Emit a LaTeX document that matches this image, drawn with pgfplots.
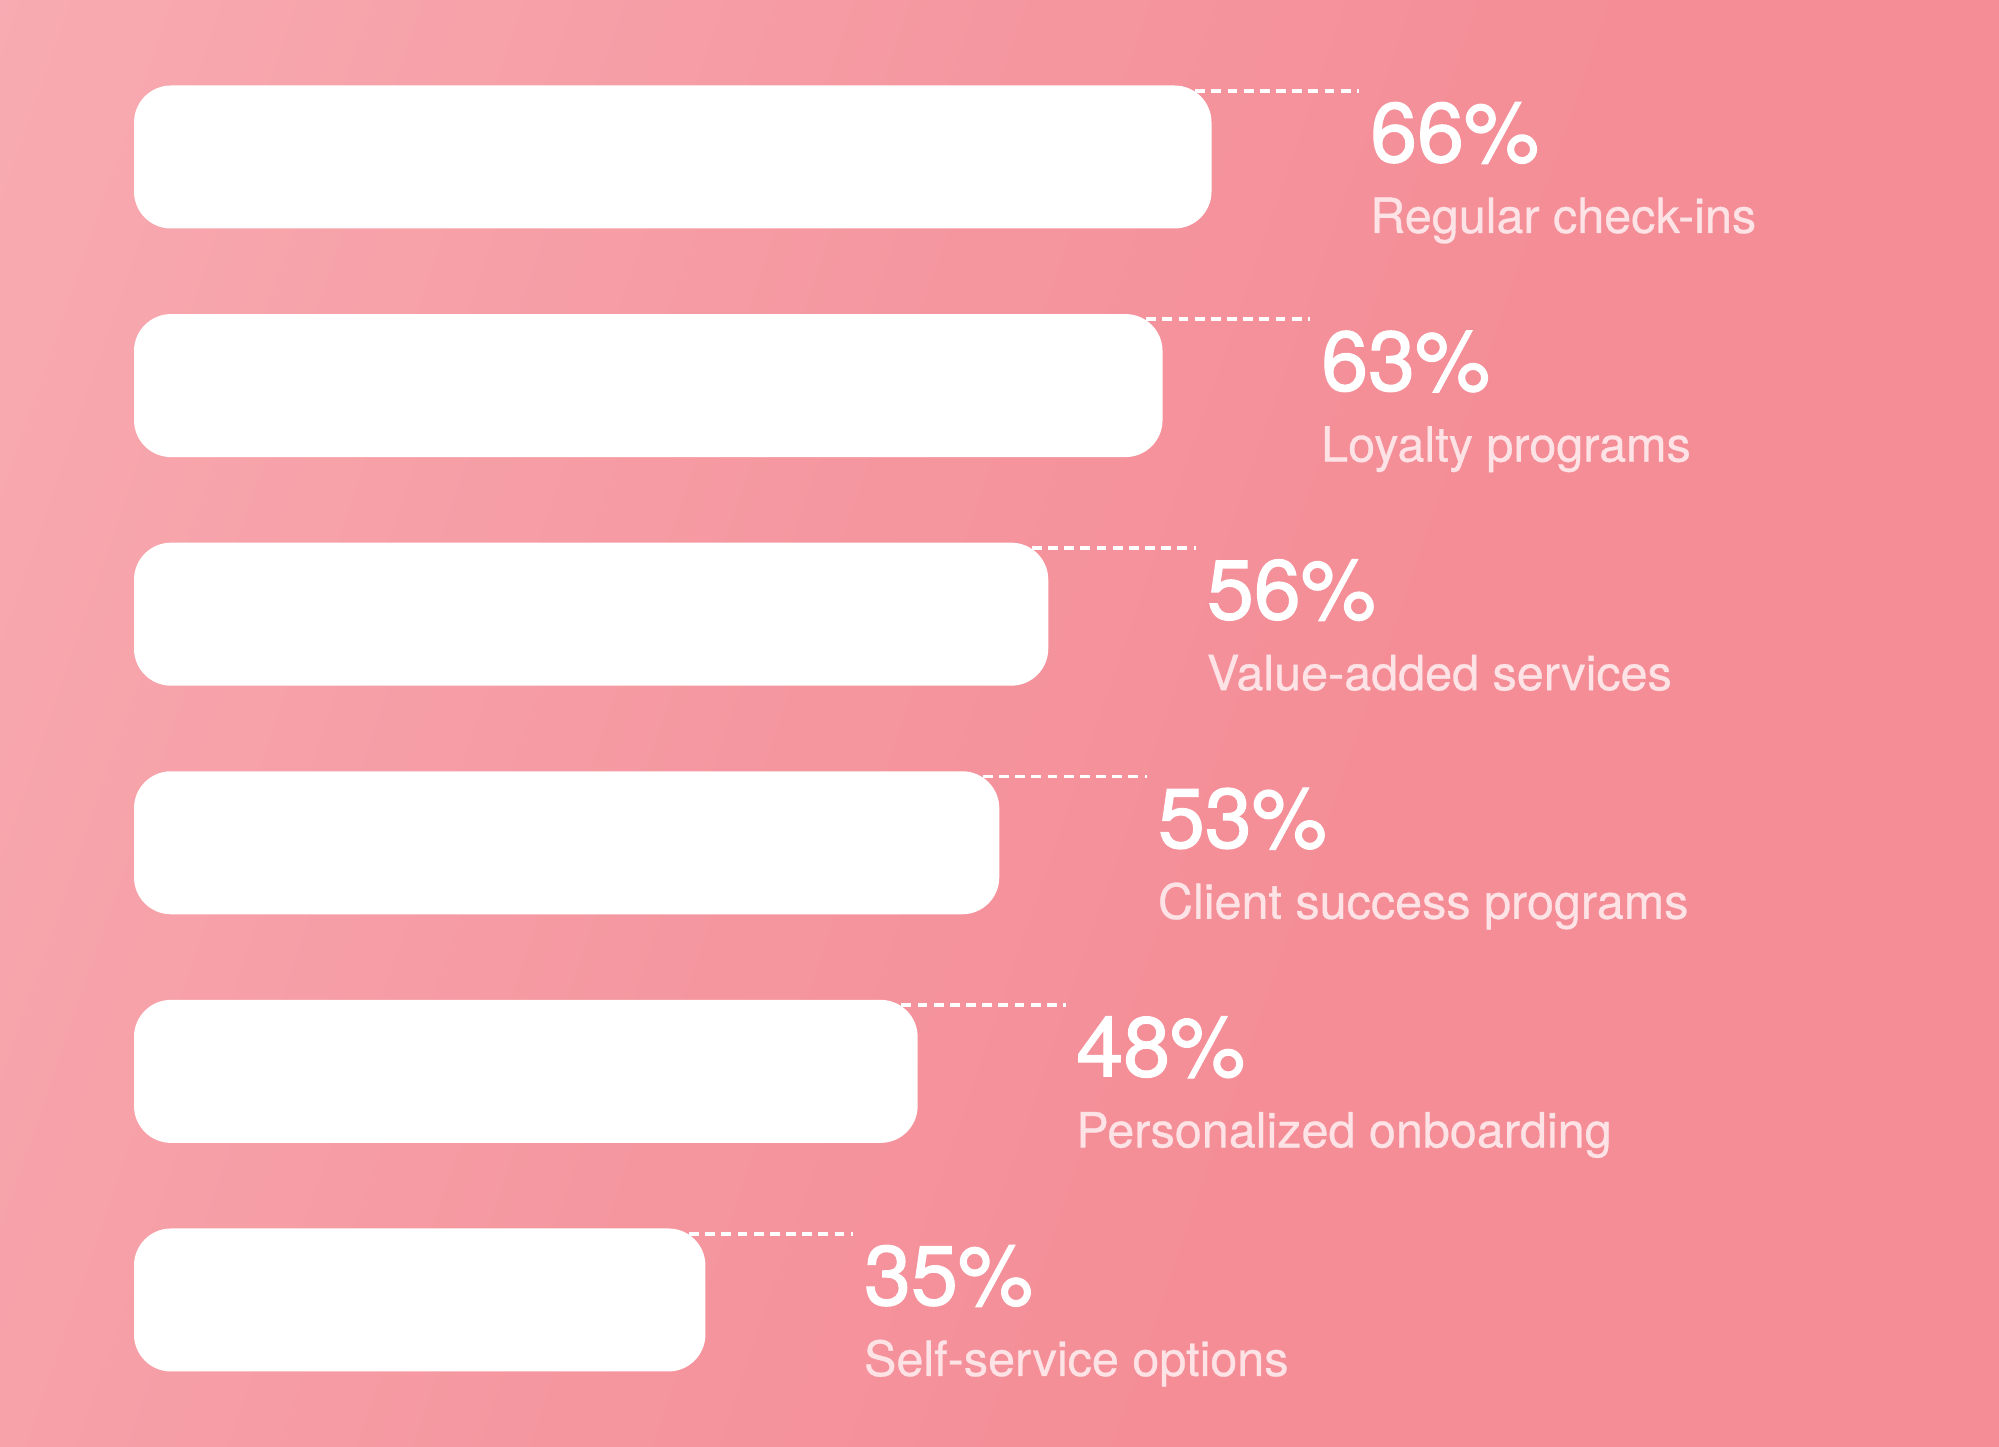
\documentclass[border=0pt]{standalone}
\usepackage{pgfplots}
\pgfplotsset{compat=1.18}
\usepackage{pgfplotstable}
\usepackage{fontspec}
\setmainfont{TeX Gyre Heros}
\newfontfamily\pctfont[FakeBold=1.4]{TeX Gyre Heros}
\newfontfamily\namefont[FakeBold=0.6]{TeX Gyre Heros}

\definecolor{bgA}{HTML}{FAB9BF}
\definecolor{bgB}{HTML}{F8A8AF}
\definecolor{bgC}{HTML}{F5969F}
\definecolor{bgD}{HTML}{F48D96}
\definecolor{subtext}{HTML}{FDE3E6}

\pgfdeclarehorizontalshading{bgshade}{100bp}{color(0bp)=(bgA); color(22bp)=(bgB); color(45bp)=(bgC); color(60bp)=(bgD); color(100bp)=(bgD)}

% share of companies per retention tactic
\pgfplotstableread[col sep=comma]{
pos,val,label
6,66,Regular check-ins
5,63,Loyalty programs
4,56,Value-added services
3,53,Client success programs
2,48,Personalized onboarding
1,35,Self-service options
}\reasons

\begin{document}
\begin{tikzpicture}
\shade[shading=bgshade, shading angle=-19] (0,0) rectangle (19.99,14.47);
\useasboundingbox (0,0) rectangle (19.99,14.47);
\begin{axis}[
    at={(1.34cm,0.327cm)}, anchor=south west,
    scale only axis,
    width=16cm, height=13.716cm,
    xmin=0, xmax=98,
    ymin=0.5, ymax=6.5,
    hide axis, clip=false,
]
    % bars
    \addplot[xbar, bar width=1.43cm, fill=white, draw=none,
        rounded corners=0.37cm]
        table[x=val, y=pos] {\reasons};
    % dashed leader lines
    \addplot[draw=none, mark=none,
        error bars/.cd, x dir=plus, x fixed=10.06, error mark=none,
        error bar style={draw=white, line width=1.1pt,
            dash pattern=on 2.8pt off 1.8pt}]
        table[x expr=\thisrow{val}-1, y expr=\thisrow{pos}+0.29] {\reasons};
    % percentages
    \addplot[draw=none, mark=none,
        point meta=explicit symbolic,
        nodes near coords={\pgfplotspointmeta\%},
        every node near coord/.append style={anchor=base west,
            xshift=1.58cm, yshift=-0.05cm, inner sep=0pt, text=white,
            font=\pctfont\fontsize{24}{28}\selectfont}]
        table[x=val, y=pos, meta=val] {\reasons};
    % category names
    \addplot[draw=none, mark=none,
        point meta=explicit symbolic,
        nodes near coords,
        every node near coord/.append style={anchor=base west,
            xshift=1.58cm, yshift=-0.76cm, inner sep=0pt, text=subtext,
            font=\namefont\fontsize{13.8}{16}\selectfont}]
        table[x=val, y=pos, meta=label] {\reasons};
\end{axis}
\end{tikzpicture}
\end{document}
